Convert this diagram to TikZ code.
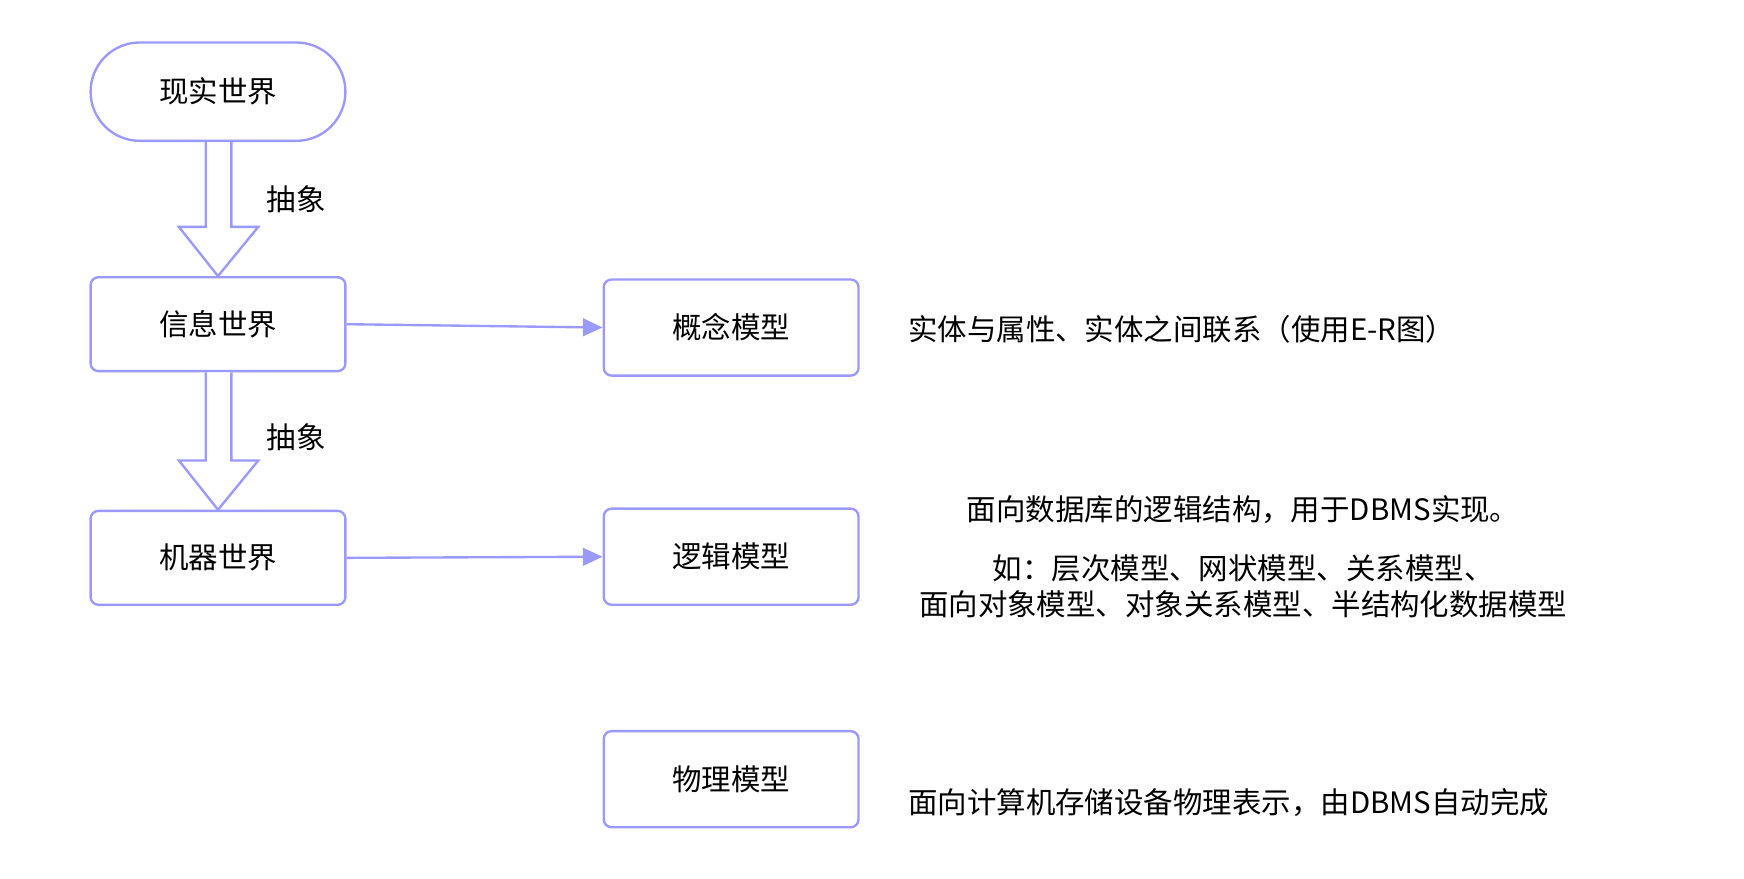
\documentclass[tikz,border=0pt]{standalone}
\usepackage{fontspec}
\setmainfont{Noto Sans CJK SC}
\usetikzlibrary{positioning,calc,arrows.meta}
\definecolor{edge}{HTML}{9999FF}
\tikzset{
  world/.style={draw=edge, line width=1.2pt, rounded corners=4pt, minimum width=4.56cm, minimum height=1.68cm, font=\fontsize{15}{18}\selectfont},
  note/.style={font=\fontsize{15}{18}\selectfont, anchor=west, inner sep=0pt},
  link/.style={draw=edge, line width=1.2pt, -{Triangle[length=10pt,width=9pt]}},
  hollow/.style={draw=edge, line width=1.2pt, fill=white},
}
\begin{document}
\begin{tikzpicture}[x=0.02cm, y=-0.02cm]
    \useasboundingbox (0,0) rectangle (1560,785.4);

    \node[world, rounded corners=0.88cm, minimum height=1.76cm] (real) at (195,82) {现实世界};
    \node[world] (info) at (195,290) {信息世界};
    \node[world] (mach) at (195,499) {机器世界};

    \node[world, minimum height=1.72cm] (concept) at (654,293) {概念模型};
    \node[world, minimum height=1.72cm] (logic) at (654,498) {逻辑模型};
    \node[world, minimum height=1.72cm] (phys) at (654,697) {物理模型};

    % hollow arrows
    \foreach \a/\b in {real/info, info/mach} {
        \draw[hollow] ($(\a.south)+(-11,0)$) -- ($(\b.north)+(-11,-44)$) -- ($(\b.north)+(-35,-44)$)
            -- (\b.north) -- ($(\b.north)+(36,-44)$) -- ($(\b.north)+(12,-44)$) -- ($(\a.south)+(12,0)$);
    }
    \node[font=\fontsize{15}{18}\selectfont] (abs1) at (265,178) {抽象};
    \node[font=\fontsize{15}{18}\selectfont] (abs2) at (265,391) {抽象};

    % Edges
    \draw[link] (info.east) -- (concept.west);
    \draw[link] (mach.east) -- (logic.west);

    \node[note] (t1) at (812,295) {实体与属性、实体之间联系（使用E-R图）};
    \node[note, anchor=center, align=center] (t2) at (1112,498) {面向数据库的逻辑结构，用于DBMS实现。\\[12pt] 如：层次模型、网状模型、关系模型、\\ 面向对象模型、对象关系模型、半结构化数据模型};
    \node[note] (t3) at (812,718) {面向计算机存储设备物理表示，由DBMS自动完成};
\end{tikzpicture}
\end{document}
